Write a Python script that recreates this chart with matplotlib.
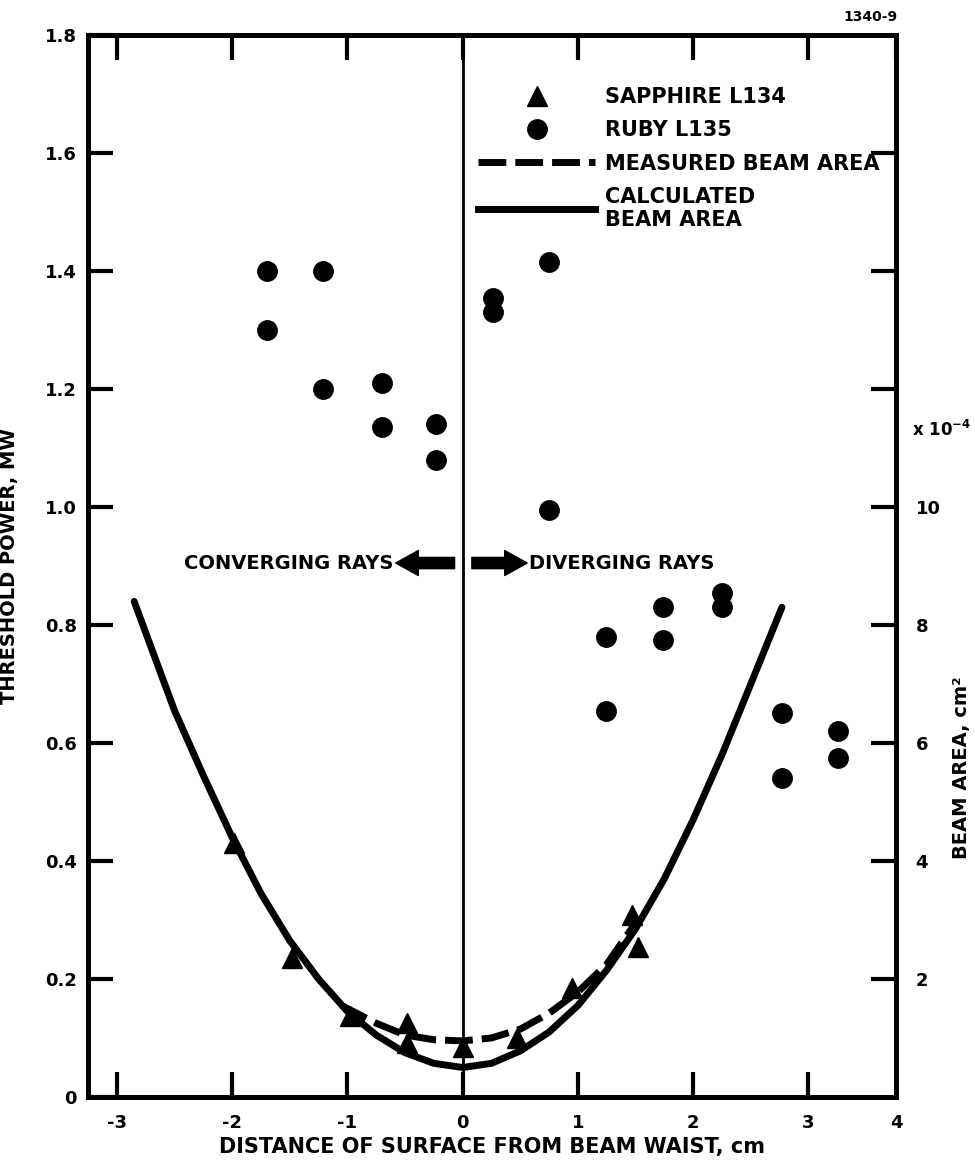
import matplotlib.pyplot as plt
from matplotlib.lines import Line2D
from matplotlib.transforms import blended_transform_factory

# threshold power, MW
ruby_x = [-1.70, -1.70, -1.21, -1.21, -0.70, -0.70, -0.23, -0.23, 0.26, 0.26,
          0.75, 0.75, 1.24, 1.24, 1.74, 1.74, 2.25, 2.25, 2.77, 2.77, 3.26, 3.26]
ruby_p = [1.40, 1.30, 1.40, 1.20, 1.21, 1.135, 1.14, 1.08, 1.355, 1.33,
          1.415, 0.995, 0.78, 0.655, 0.83, 0.775, 0.855, 0.83, 0.65, 0.54, 0.62, 0.575]
sapph_x = [-1.98, -1.48, -0.98, -0.48, -0.48, 0.0, 0.47, 0.95, 1.47, 1.52]
sapph_p = [0.43, 0.236, 0.138, 0.125, 0.092, 0.085, 0.10, 0.185, 0.308, 0.254]

# beam area, 1e-4 cm^2
calc_x = [-2.85, -2.5, -2.25, -2.0, -1.75, -1.5, -1.25, -1.0, -0.75, -0.5, -0.25, 0.0,
          0.25, 0.5, 0.75, 1.0, 1.25, 1.5, 1.75, 2.0, 2.25, 2.5, 2.77]
calc_a = [8.4, 6.55, 5.45, 4.4, 3.45, 2.65, 2.0, 1.45, 1.05, 0.75, 0.57, 0.5,
          0.57, 0.78, 1.1, 1.55, 2.15, 2.85, 3.7, 4.7, 5.8, 7.0, 8.3]
meas_x = [-1.05, -0.75, -0.5, -0.25, 0.0, 0.25, 0.5, 0.75, 1.0, 1.25, 1.5]
meas_a = [1.55, 1.25, 1.05, 0.97, 0.95, 1.0, 1.15, 1.42, 1.78, 2.25, 2.95]

xticks = [-3, -2, -1, 0, 1, 2, 3]
XMAX = 3.76

plt.rcParams['font.family'] = 'DejaVu Sans'
plt.rcParams['font.weight'] = 'bold'
plt.rcParams['axes.labelweight'] = 'bold'

fig = plt.figure(figsize=(9.75, 11.66), dpi=100)
ax = fig.add_axes([0.0903, 0.0592, 0.8287, 0.9108])
ax2 = ax.twinx()

ax.set_xlim(-3.25, XMAX)
ax.set_ylim(0, 1.8)
ax2.set_ylim(0, 18)

ax.axvline(0, color='black', lw=2)

ax.plot(ruby_x, ruby_p, 'o', color='black', ms=14)
ax.plot(sapph_x, sapph_p, '^', color='black', ms=14)
ax2.plot(calc_x, calc_a, '-', color='black', lw=5,
         solid_capstyle='round', solid_joinstyle='round')
ax2.plot(meas_x, meas_a, '--', color='black', lw=5, dashes=(4, 1.3))

# axes frame and ticks
for a in (ax, ax2):
    for s in a.spines.values():
        s.set_linewidth(3.5)

ax.set_xticks(xticks + [XMAX])
ax.set_xticklabels([str(t) for t in xticks] + ['4'])
last = ax.xaxis.get_major_ticks()[-1]
last.tick1line.set_visible(False)
last.tick2line.set_visible(False)
ax.set_yticks([0, 0.2, 0.4, 0.6, 0.8, 1.0, 1.2, 1.4, 1.6, 1.8])
ax.set_yticklabels(['0', '0.2', '0.4', '0.6', '0.8', '1.0', '1.2', '1.4', '1.6', '1.8'])
ax.tick_params(axis='x', direction='in', top=True, length=18, width=3,
               labelsize=13, pad=12)
ax.tick_params(axis='y', direction='in', right=False, length=18, width=3,
               labelsize=13, pad=8)

ax2.set_yticks([2, 4, 6, 8, 10, 12, 14, 16])
ax2.set_yticklabels(['2', '4', '6', '8', '10', '', '', ''])
ax2.tick_params(axis='y', direction='in', length=18, width=3, labelsize=13, pad=14)

trans = blended_transform_factory(ax2.transAxes, ax2.transData)
ax2.text(1.02, 11.3, r'x 10$^{-4}$', transform=trans, fontsize=12,
         ha='left', va='center')

ax.set_xlabel('DISTANCE OF SURFACE FROM BEAM WAIST, cm', fontsize=15, labelpad=4)
ax.set_ylabel('THRESHOLD POWER, MW', fontsize=14)
ax.yaxis.set_label_coords(-0.085, 0.5)
ax2.set_ylabel('BEAM AREA, cm²', fontsize=14)
ax2.yaxis.set_label_coords(1.069, 0.31)

# converging / diverging arrows
arrow = dict(arrowstyle='simple,head_length=0.9,head_width=1.0,tail_width=0.45',
             color='black', mutation_scale=18, shrinkA=0, shrinkB=0)
ax.annotate('', xy=(-0.58, 0.905), xytext=(-0.07, 0.905), arrowprops=arrow)
ax.annotate('', xy=(0.56, 0.905), xytext=(0.08, 0.905), arrowprops=arrow)
ax.text(-0.6, 0.905, 'CONVERGING RAYS', fontsize=14, ha='right', va='center')
ax.text(0.58, 0.905, 'DIVERGING RAYS', fontsize=14, ha='left', va='center')

handles = [
    Line2D([], [], marker='^', ls='none', color='black', ms=14),
    Line2D([], [], marker='o', ls='none', color='black', ms=14),
    Line2D([], [], ls='--', lw=5, dashes=(4, 1.3), color='black'),
    Line2D([], [], ls='-', lw=5, color='black'),
]
labels = ['SAPPHIRE L134', 'RUBY L135', 'MEASURED BEAM AREA', 'CALCULATED\nBEAM AREA']
ax2.legend(handles, labels, loc='upper left', bbox_to_anchor=(0.483, 0.951),
           frameon=False, numpoints=1, handlelength=5.6, handletextpad=0.5,
           borderpad=0, borderaxespad=0, labelspacing=0.64,
           prop={'size': 15, 'weight': 'bold'})

fig.text(0.921, 0.985, '1340-9', fontsize=10, ha='right', va='center')

fig.savefig('out.png', dpi=100)
